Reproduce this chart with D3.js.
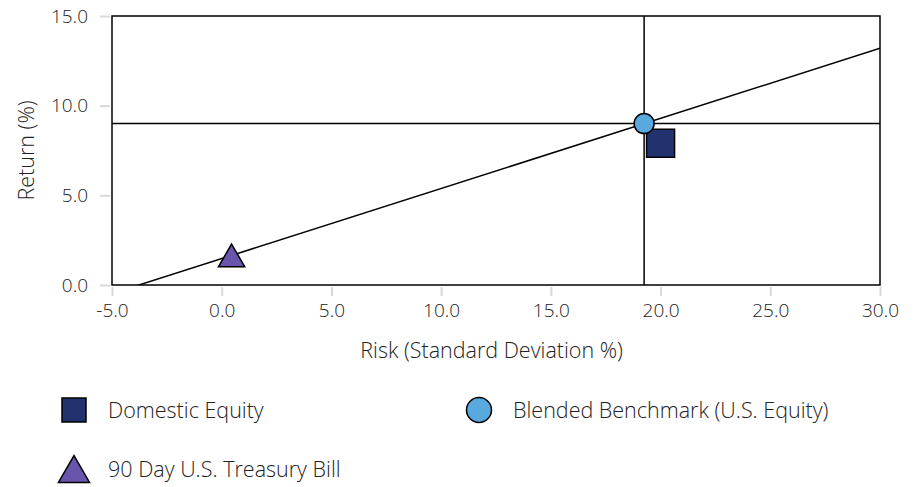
<!DOCTYPE html>
<html>
<head>
<meta charset="utf-8">
<script src="https://cdn.jsdelivr.net/npm/d3@7"></script>
<style>
  body { margin: 0; background: #fff; }
  text { font-family: "Open Sans", "Noto Sans", sans-serif; font-weight: 300; fill: #222; }
</style>
</head>
<body>
<svg width="917" height="487"></svg>
<script>
const names = ['Domestic Equity', 'Blended Benchmark (U.S. Equity)', '90 Day U.S. Treasury Bill']
const risk = [20.0, 19.25, 0.45]
const ret = [7.9, 9.0, 1.65]
const colors = ['#22326e', '#5aa9de', '#6a55ad']
const shapes = [d3.symbolSquare, d3.symbolCircle, d3.symbolTriangle]
const xTicks = [-5, 0, 5, 10, 15, 20, 25, 30]
const yTicks = [0, 5, 10, 15]

const svg = d3.select('svg')
const margin = { top: 16, right: 37, bottom: 202, left: 112 }
const width = +svg.attr('width')
const height = +svg.attr('height')
const innerWidth = width - margin.left - margin.right
const innerHeight = height - margin.top - margin.bottom

const g = svg.append('g')
  .attr('transform', `translate(${margin.left},${margin.top})`)

const x = d3.scaleLinear().domain([-5, 30]).range([0, innerWidth])
const y = d3.scaleLinear().domain([0, 15]).range([innerHeight, 0])

const fmt = d => d3.format('.1f')(d).replace('−', '-')

// axes: light tick marks outside the box
const xAxis = g.append('g')
  .attr('transform', `translate(0,${innerHeight})`)
  .call(d3.axisBottom(x).tickValues(xTicks).tickFormat(fmt).tickSize(11).tickPadding(8))
const yAxis = g.append('g')
  .call(d3.axisLeft(y).tickValues(yTicks).tickFormat(fmt).tickSize(12).tickPadding(12))
for (const a of [xAxis, yAxis]) {
  a.attr('font-family', null).attr('font-size', null).attr('fill', null)
  a.select('.domain').remove()
  a.selectAll('.tick line').attr('stroke', '#d9d9d9').attr('stroke-width', 2)
  a.selectAll('.tick text').style('font-size', '19px').attr('fill', '#222')
}
// tick lines start just outside the frame
xAxis.selectAll('.tick line').attr('y1', 2)
yAxis.selectAll('.tick line').attr('x1', -2)

g.append('clipPath').attr('id', 'clip')
  .append('rect').attr('width', innerWidth).attr('height', innerHeight)

const plot = g.append('g').attr('clip-path', 'url(#clip)')

// crosshair at the benchmark
plot.append('line')
  .attr('x1', x(risk[1])).attr('x2', x(risk[1]))
  .attr('y1', 0).attr('y2', innerHeight)
  .attr('stroke', '#000').attr('stroke-width', 1.5)
plot.append('line')
  .attr('x1', 0).attr('x2', innerWidth)
  .attr('y1', y(ret[1])).attr('y2', y(ret[1]))
  .attr('stroke', '#000').attr('stroke-width', 1.5)

// capital market line through T-bill and benchmark
const slope = (ret[1] - ret[2]) / (risk[1] - risk[2])
const lineAt = r => ret[2] + slope * (r - risk[2])
plot.append('line')
  .attr('x1', x(-5)).attr('y1', y(lineAt(-5)))
  .attr('x2', x(30)).attr('y2', y(lineAt(30)))
  .attr('stroke', '#000').attr('stroke-width', 1.5)

g.append('rect')
  .attr('width', innerWidth).attr('height', innerHeight)
  .attr('fill', 'none').attr('stroke', '#000').attr('stroke-width', 1.5)

// triangles are centred on their box, not their centroid
const triShift = size => Math.sqrt(size / (3 * Math.sqrt(3))) / 2

const sizes = [784, 314, 300]
const order = [0, 2, 1]
g.selectAll('.pt').data(order).join('path')
  .attr('class', 'pt')
  .attr('transform', i => `translate(${x(risk[i])},${y(ret[i]) + (i === 2 ? triShift(sizes[i]) : 0)})`)
  .attr('d', i => d3.symbol(shapes[i], sizes[i])())
  .attr('fill', i => colors[i])
  .attr('stroke', '#000').attr('stroke-width', 1.5)

// axis titles
svg.append('text')
  .attr('x', margin.left + x(12.3)).attr('y', 358)
  .attr('text-anchor', 'middle').style('font-size', '21.5px')
  .text('Risk (Standard Deviation %)')
svg.append('text')
  .attr('transform', `translate(34,${margin.top + innerHeight / 2}) rotate(-90)`)
  .attr('text-anchor', 'middle').style('font-size', '21.5px')
  .text('Return (%)')

// legend
const legendPos = [[74, 410], [479, 410], [74, 469]]
const legendSizes = [576, 491, 420]
const leg = svg.selectAll('.leg').data(d3.range(names.length)).join('g')
  .attr('class', 'leg')
  .attr('transform', i => `translate(${legendPos[i][0]},${legendPos[i][1]})`)
leg.append('path')
  .attr('d', i => d3.symbol(shapes[i], legendSizes[i])())
  .attr('fill', i => colors[i])
  .attr('stroke', '#000').attr('stroke-width', 1.5)
  .attr('transform', i => i === 2 ? `translate(0,${triShift(legendSizes[i])})` : null)
leg.append('text')
  .attr('x', 34).attr('dy', '0.35em')
  .style('font-size', '21.5px')
  .text(i => names[i])
</script>
</body>
</html>
